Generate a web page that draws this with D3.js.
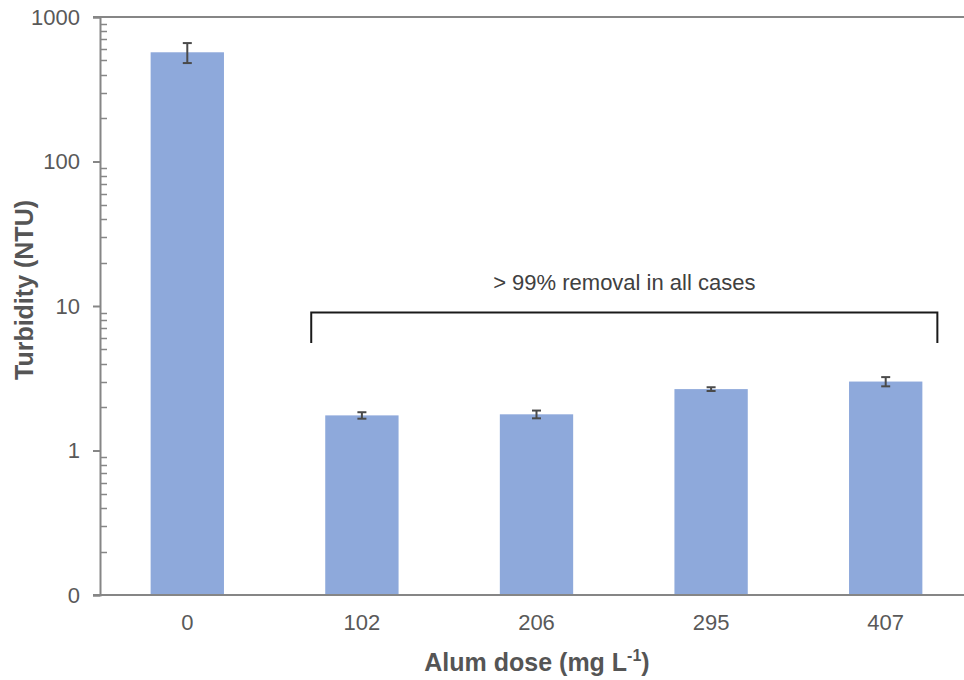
<!DOCTYPE html>
<html>
<head>
<meta charset="utf-8">
<script src="https://cdn.jsdelivr.net/npm/d3@7"></script>
<style>
  html, body { margin: 0; padding: 0; background: #fff; }
  svg { display: block; }
  text { font-family: "Liberation Sans", Arial, sans-serif; }
</style>
</head>
<body>
<script>
// Alum dose categories (mg/L) and measured turbidity (NTU)
const doses = ["0", "102", "206", "295", "407"];
const turbidity = [570, 1.75, 1.78, 2.66, 3.0];
const turbidityErr = [90, 0.09, 0.11, 0.08, 0.22];
// Log axis: the lowest decade (0.1) is labelled "0"
const yTickValues = [0.1, 1, 10, 100, 1000];
const yTickLabels = ["0", "1", "10", "100", "1000"];
const bracketFrom = "102", bracketTo = "407";
const bracketText = "> 99% removal in all cases";

const W = 964, H = 680;
const svg = d3.select("body").append("svg").attr("width", W).attr("height", H);

const x = d3.scaleBand().domain(doses).range([100, 973]).paddingInner(0.58).paddingOuter(0.29);
const y = d3.scaleLog().domain([0.1, 1000]).range([595, 17]);

const axisColor = "#868686";
const labelColor = "#595959";

// Bars
svg.append("g").selectAll("rect").data(doses).join("rect")
  .attr("x", d => x(d))
  .attr("width", x.bandwidth())
  .attr("y", (d, i) => y(turbidity[i]))
  .attr("height", (d, i) => y(0.1) - y(turbidity[i]))
  .attr("fill", "#8EA9DB");

// Error bars
const eb = svg.append("g").attr("stroke", "#4a4a4a").attr("stroke-width", 2);
doses.forEach((d, i) => {
  const cx = x(d) + x.bandwidth() / 2;
  const y0 = y(turbidity[i] - turbidityErr[i]);
  const y1 = y(turbidity[i] + turbidityErr[i]);
  eb.append("line").attr("x1", cx).attr("x2", cx).attr("y1", y0).attr("y2", y1);
  eb.append("line").attr("x1", cx - 4.5).attr("x2", cx + 4.5).attr("y1", y0).attr("y2", y0);
  eb.append("line").attr("x1", cx - 4.5).attr("x2", cx + 4.5).attr("y1", y1).attr("y2", y1);
});

// Minor ticks (2..9 in each decade), pointing into the plot
const minor = [];
for (let e = -1; e < 3; e++) for (let m = 2; m <= 9; m++) minor.push(m * Math.pow(10, e));
svg.append("g").attr("stroke", axisColor).attr("stroke-width", 1.5)
  .selectAll("line").data(minor).join("line")
  .attr("x1", 100).attr("x2", 107)
  .attr("y1", d => Math.round(y(d)) + 0.5).attr("y2", d => Math.round(y(d)) + 0.5);

// Major y axis
const yAxis = d3.axisLeft(y).tickValues(yTickValues)
  .tickFormat((d, i) => yTickLabels[i]).tickSize(7).tickPadding(13);
const gy = svg.append("g").attr("transform", "translate(100,0)").call(yAxis);
gy.select(".domain").attr("stroke", axisColor).attr("stroke-width", 2);
gy.selectAll(".tick line").attr("stroke", axisColor).attr("stroke-width", 2);
gy.selectAll(".tick text").attr("fill", labelColor).attr("font-size", 22)
  .attr("font-family", "Liberation Sans, Arial, sans-serif");

// Top and bottom frame lines
svg.append("line").attr("x1", 93).attr("x2", W).attr("y1", y(1000)).attr("y2", y(1000))
  .attr("stroke", axisColor).attr("stroke-width", 2);
svg.append("line").attr("x1", 93).attr("x2", W).attr("y1", y(0.1)).attr("y2", y(0.1))
  .attr("stroke", axisColor).attr("stroke-width", 2);

// X tick labels
svg.append("g").selectAll("text").data(doses).join("text")
  .attr("x", d => x(d) + x.bandwidth() / 2)
  .attr("y", 630)
  .attr("text-anchor", "middle")
  .attr("font-size", 22)
  .attr("fill", labelColor)
  .text(d => d);

// Axis titles
svg.append("text")
  .attr("transform", "translate(33,290) rotate(-90)")
  .attr("text-anchor", "middle")
  .attr("font-size", 25).attr("font-weight", "bold").attr("fill", "#555")
  .text("Turbidity (NTU)");

const xt = svg.append("text")
  .attr("x", 537).attr("y", 671)
  .attr("text-anchor", "middle")
  .attr("font-size", 25).attr("font-weight", "bold").attr("fill", "#555");
xt.append("tspan").text("Alum dose (mg L");
xt.append("tspan").attr("font-size", 16).attr("dy", -10).text("-1");
xt.append("tspan").attr("dy", 10).text(")");

// Bracket annotation spanning the dosed samples
const bx0 = x(bracketFrom) - 14, bx1 = x(bracketTo) + x.bandwidth() + 15;
svg.append("path")
  .attr("d", `M${bx0},343 V312.5 H${bx1} V343`)
  .attr("fill", "none").attr("stroke", "#1a1a1a").attr("stroke-width", 2);
svg.append("text")
  .attr("x", (bx0 + bx1) / 2).attr("y", 290)
  .attr("text-anchor", "middle").attr("font-size", 22).attr("fill", "#404040")
  .text(bracketText);
</script>
</body>
</html>
